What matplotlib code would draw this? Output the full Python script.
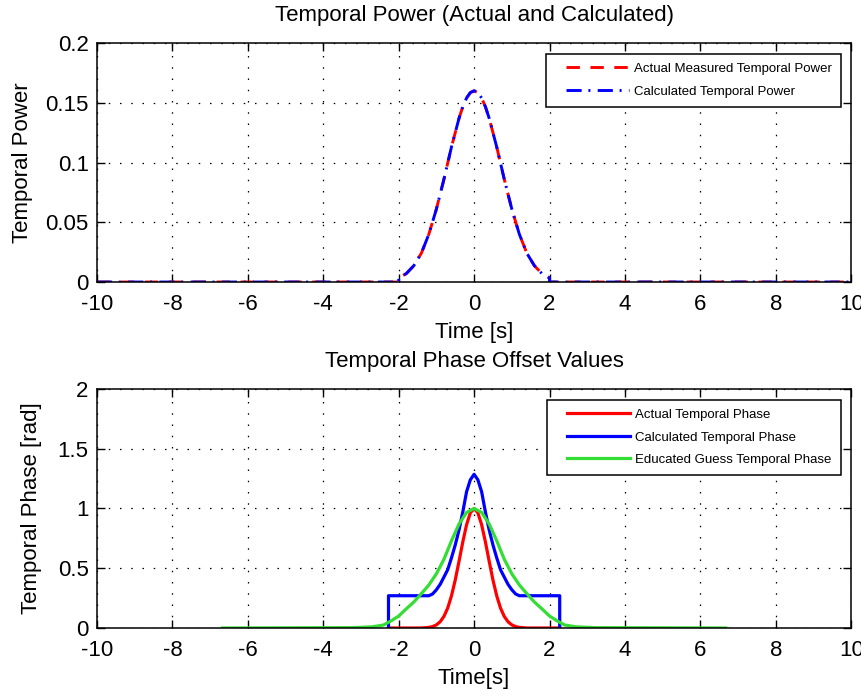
import matplotlib
matplotlib.use("Agg")
import matplotlib.pyplot as plt
from matplotlib.lines import Line2D
from matplotlib.legend_handler import HandlerLine2D

# --- top panel: temporal power ---
t_power = [-10, -2.0, -2.0, -1.8, -1.6, -1.4, -1.2, -1.0, -0.8, -0.6, -0.4, -0.3, -0.2, -0.1,
           0.0,
           0.1, 0.2, 0.3, 0.4, 0.6, 0.8, 1.0, 1.2, 1.4, 1.6, 1.8, 2.0, 2.0, 10]
power_actual = [0, 0, 0.0034, 0.0070, 0.0136, 0.024, 0.040, 0.061, 0.086, 0.113, 0.137, 0.1467, 0.154, 0.1585,
                0.160,
                0.1585, 0.154, 0.1467, 0.137, 0.113, 0.086, 0.061, 0.040, 0.024, 0.0136, 0.0070, 0.0034, 0, 0]
power_calc = [0, 0, 0.0034, 0.0070, 0.0136, 0.024, 0.040, 0.061, 0.086, 0.113, 0.137, 0.1467, 0.154, 0.1585,
              0.160,
              0.1585, 0.154, 0.1467, 0.137, 0.113, 0.086, 0.061, 0.040, 0.024, 0.0136, 0.0070, 0.0034, 0, 0]

# --- bottom panel: temporal phase ---
t_actual = [-2.27, -1.4, -1.2, -1.1, -1.0, -0.9, -0.8, -0.7, -0.6, -0.5, -0.4, -0.3, -0.2, -0.1,
            0.0,
            0.1, 0.2, 0.3, 0.4, 0.5, 0.6, 0.7, 0.8, 0.9, 1.0, 1.1, 1.2, 1.4, 2.27]
phase_actual = [0, 0, 0.005, 0.012, 0.026, 0.052, 0.097, 0.167, 0.269, 0.402, 0.558, 0.720, 0.864, 0.964,
                1.0,
                0.964, 0.864, 0.720, 0.558, 0.402, 0.269, 0.167, 0.097, 0.052, 0.026, 0.012, 0.005, 0, 0]

t_calc = [-2.27, -2.27, -1.2, -1.1, -1.0, -0.9, -0.8, -0.7, -0.6, -0.5, -0.4, -0.3, -0.2, -0.1,
          0.0,
          0.1, 0.2, 0.3, 0.4, 0.5, 0.6, 0.7, 0.8, 0.9, 1.0, 1.1, 1.2, 2.27, 2.27]
phase_calc = [0, 0.27, 0.27, 0.285, 0.32, 0.365, 0.426, 0.488, 0.587, 0.695, 0.82, 0.97, 1.14, 1.24,
              1.286,
              1.24, 1.14, 0.97, 0.82, 0.695, 0.587, 0.488, 0.426, 0.365, 0.32, 0.285, 0.27, 0.27, 0]

t_guess = [-6.67, -3.2, -2.7, -2.4, -2.2, -2.0, -1.8, -1.6, -1.4, -1.2, -1.0, -0.8, -0.6, -0.4, -0.2,
           0.0,
           0.2, 0.4, 0.6, 0.8, 1.0, 1.2, 1.4, 1.6, 1.8, 2.0, 2.2, 2.4, 2.7, 3.2, 6.67]
phase_guess = [0, 0.003, 0.01, 0.025, 0.06, 0.10, 0.16, 0.217, 0.287, 0.36, 0.454, 0.575, 0.73, 0.87, 0.967,
               1.0,
               0.967, 0.87, 0.73, 0.575, 0.454, 0.36, 0.287, 0.217, 0.16, 0.10, 0.06, 0.025, 0.01, 0.003, 0]

x_ticks = [-10, -8, -6, -4, -2, 0, 2, 4, 6, 8, 10]
power_ticks = [0, 0.05, 0.1, 0.15, 0.2]
power_tick_labels = ["0", "0.05", "0.1", "0.15", "0.2"]
phase_ticks = [0, 0.5, 1, 1.5, 2]
phase_tick_labels = ["0", "0.5", "1", "1.5", "2"]

FONT = ["Liberation Sans", "DejaVu Sans"]
LEG_SIZE = 9.5
GREEN = "#33dd33"


def style_axes(ax, yticks, ylabels, ylim):
    ax.set_xlim(-10, 10)
    ax.set_ylim(*ylim)
    ax.set_xticks(x_ticks)
    ax.set_xticklabels([str(v) for v in x_ticks])
    ax.set_yticks(yticks)
    ax.set_yticklabels(ylabels)
    ax.tick_params(direction="in", length=6, width=1, top=True, right=True,
                   labelsize=16, colors="black")
    ax.tick_params(axis="x", pad=8.5)
    ax.tick_params(axis="y", pad=6)
    ax.grid(True, color="black", linestyle=(0, (1.2, 7.8)), linewidth=0.9)
    for sp in ax.spines.values():
        sp.set_linewidth(1.1)
        sp.set_color("black")


def add_legend(ax):
    leg = ax.legend(loc="upper right", fontsize=LEG_SIZE, fancybox=False, edgecolor="black",
                    framealpha=1, handlelength=5.6, handletextpad=0.35, labelspacing=0.78,
                    borderaxespad=0.8, borderpad=0.7,
                    handler_map={Line2D: HandlerLine2D(xpad=0.8)})
    leg.get_frame().set_linewidth(1.1)
    return leg


def main():
    plt.rcParams["font.family"] = FONT
    fig = plt.figure(figsize=(8.62, 6.96), dpi=100)
    ax1 = fig.add_axes([0.1125, 0.5948, 0.875, 0.3434])
    ax2 = fig.add_axes([0.1125, 0.0977, 0.875, 0.3434])

    # top
    ax1.plot(t_power, power_actual, color="red", linewidth=2.1, linestyle=(0, (4.6, 3.6)),
             label="Actual Measured Temporal Power")
    ax1.plot(t_power, power_calc, color="blue", linewidth=2.1, linestyle=(0, (5.2, 2.3, 0.7, 2.5)),
             label="Calculated Temporal Power")
    style_axes(ax1, power_ticks, power_tick_labels, (0, 0.2))
    ax1.set_title("Temporal Power (Actual and Calculated)", fontsize=16, pad=16)
    ax1.set_xlabel("Time [s]", fontsize=16, labelpad=5)
    ax1.set_ylabel("Temporal Power", fontsize=16)
    ax1.yaxis.set_label_coords(-0.085, 0.5)
    add_legend(ax1)

    # bottom
    ax2.plot(t_actual, phase_actual, color="red", linewidth=2.3, label="Actual Temporal Phase")
    ax2.plot(t_calc, phase_calc, color="blue", linewidth=2.3, label="Calculated Temporal Phase")
    ax2.plot(t_guess, phase_guess, color=GREEN, linewidth=2.3, label="Educated Guess Temporal Phase")
    style_axes(ax2, phase_ticks, phase_tick_labels, (0, 2))
    ax2.set_title("Temporal Phase Offset Values", fontsize=16, pad=16)
    ax2.set_xlabel("Time[s]", fontsize=16, labelpad=5)
    ax2.set_ylabel("Temporal Phase [rad]", fontsize=16)
    ax2.yaxis.set_label_coords(-0.073, 0.5)
    add_legend(ax2)

    fig.savefig("out.png", dpi=100)


if __name__ == "__main__":
    main()
